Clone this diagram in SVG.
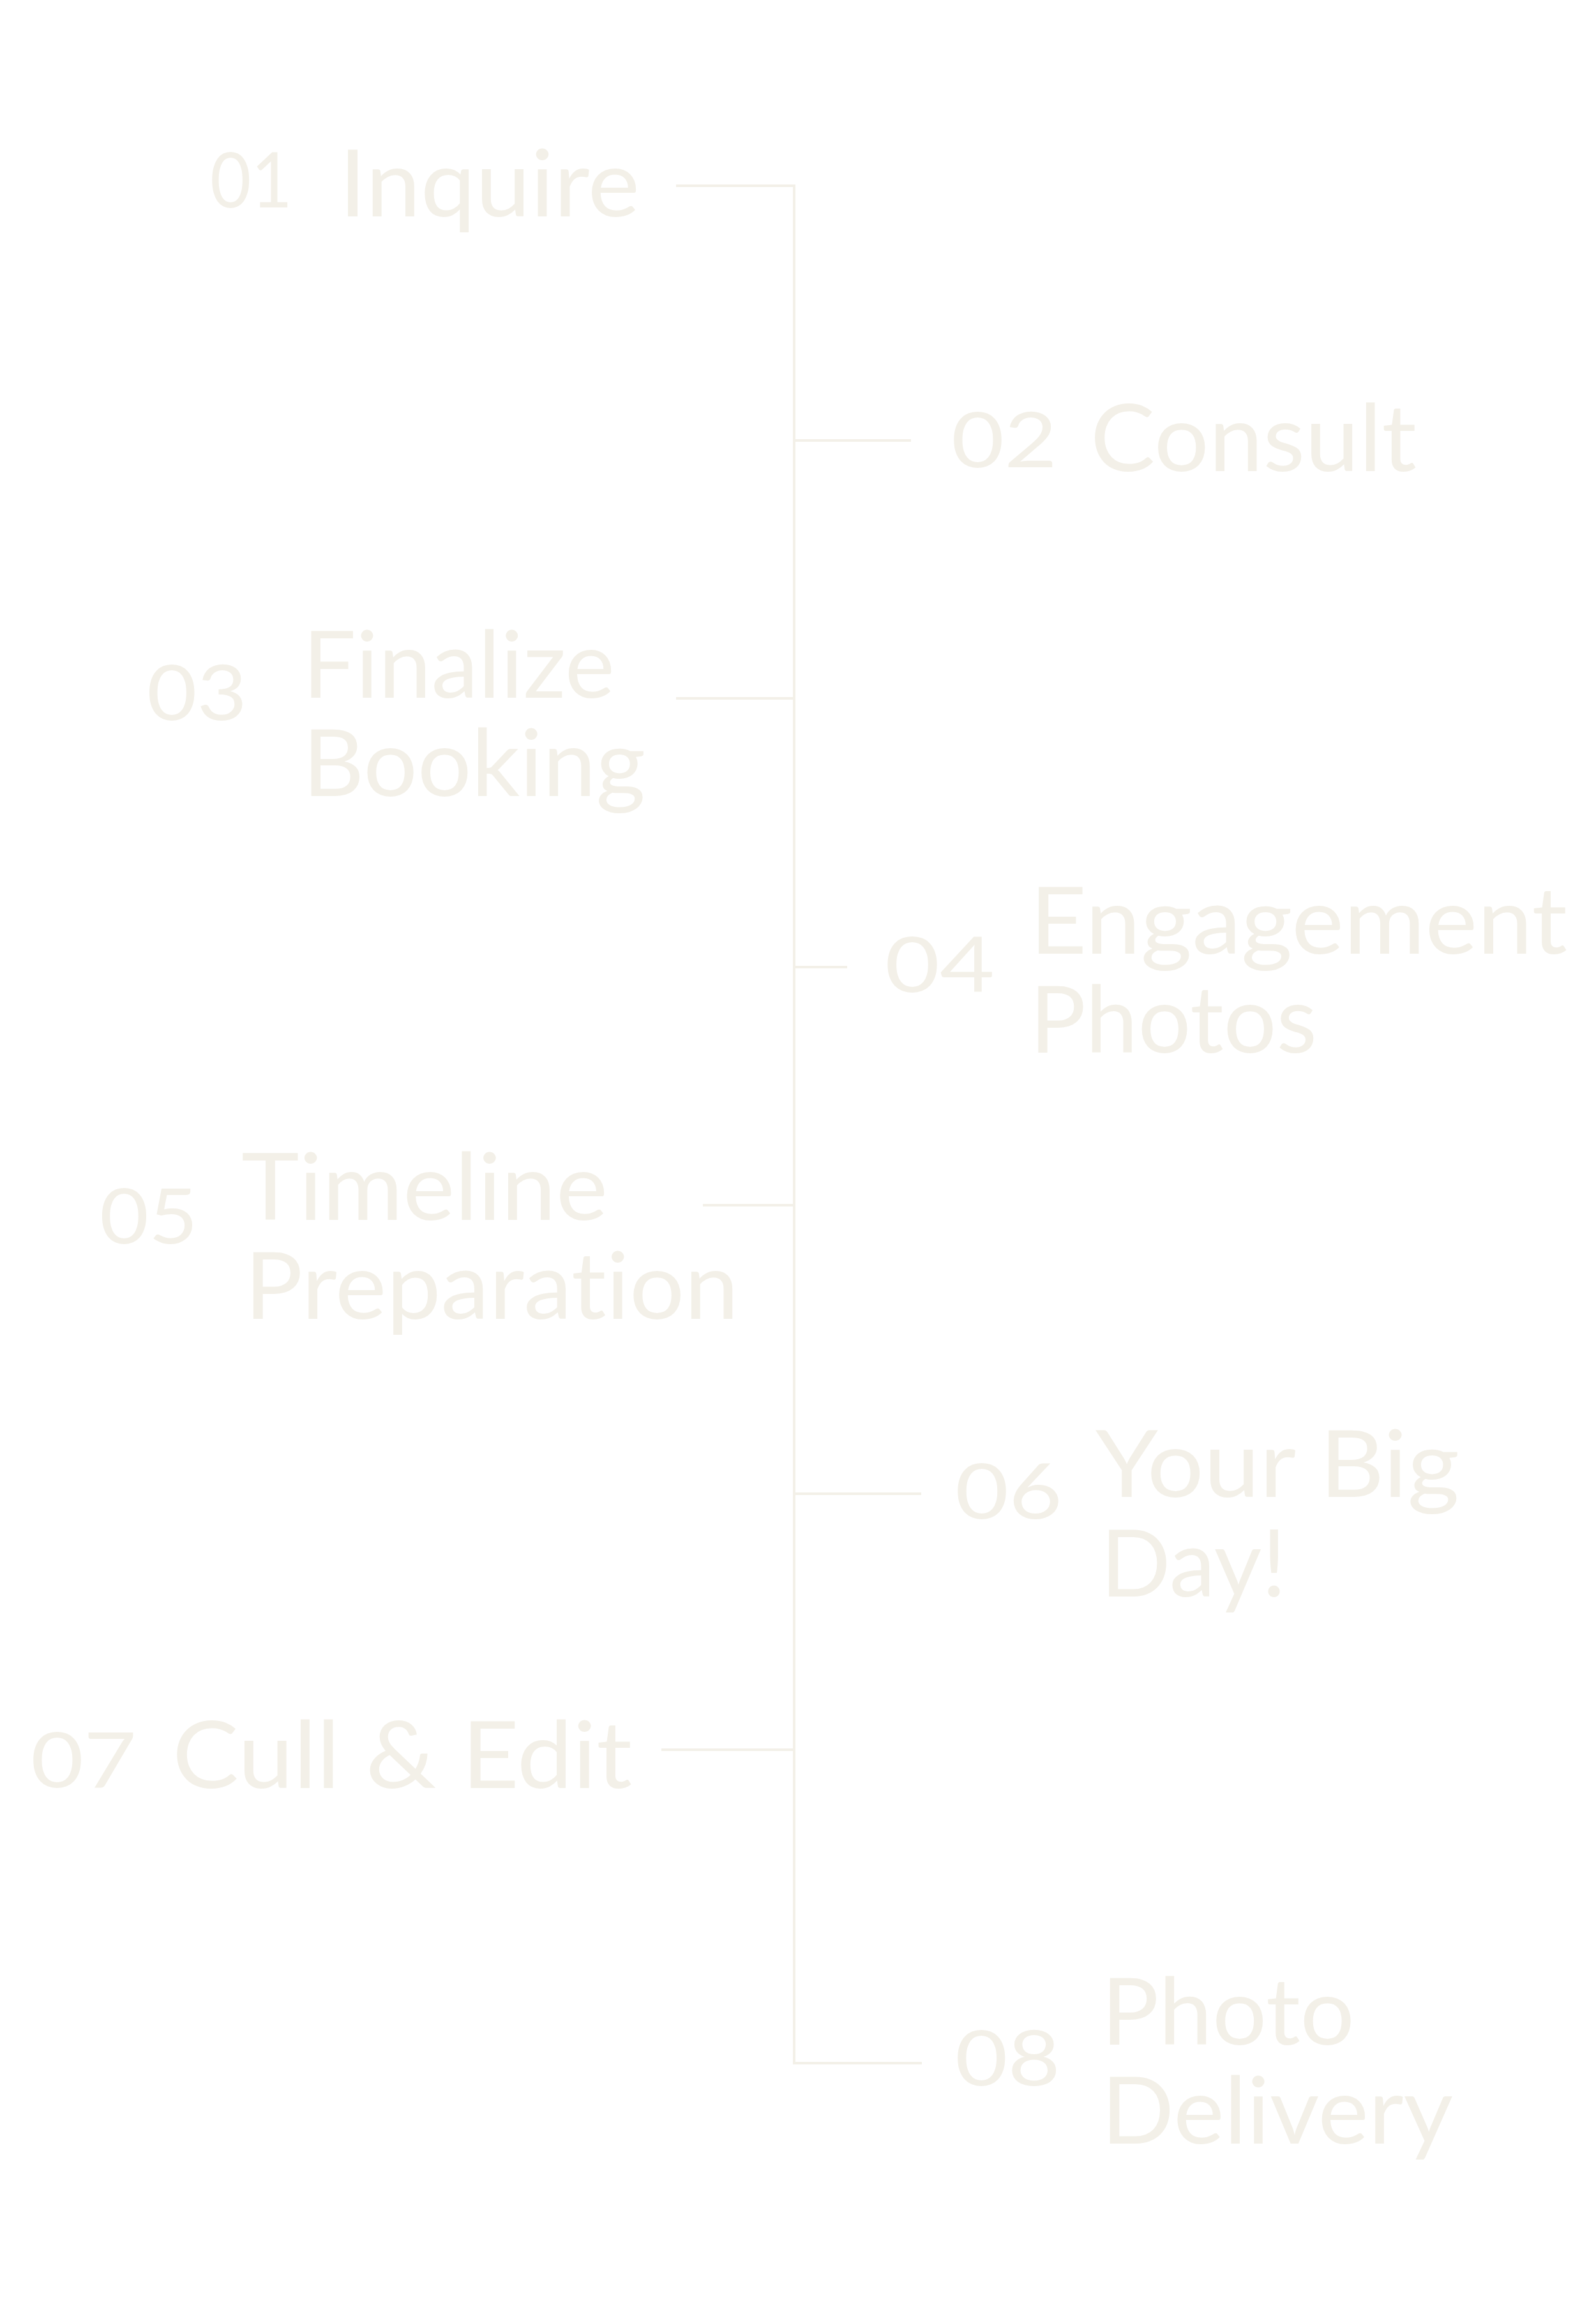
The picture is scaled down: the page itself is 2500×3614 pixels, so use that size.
<svg xmlns="http://www.w3.org/2000/svg" width="2500" height="3614" viewBox="0 0 2500 3614">
<style>
.lbl{font-family:Lato,"Liberation Sans",sans-serif;font-size:145px;fill:#F3F0E8;font-variant-ligatures:none;font-feature-settings:"liga" 0;}
.num{font-family:Lato,"Liberation Sans",sans-serif;font-size:121px;fill:#F3F0E8;}
.conn{fill:none;stroke:#F3F0E8;stroke-width:4;}
</style>
<rect width="2500" height="3614" fill="#FFFFFF"/>
<g id="connectors" class="conn">
<path d="M1059 291 H1244 V3232 H1444"/>
<path d="M1244 690 H1427"/>
<path d="M1059 1094 H1244"/>
<path d="M1244 1515 H1327"/>
<path d="M1101 1888 H1244"/>
<path d="M1244 2340 H1443"/>
<path d="M1036 2741 H1244"/>
</g>
<g id="step01">
<text class="num" x="329" y="325" textLength="129" lengthAdjust="spacingAndGlyphs">01</text>
<text class="lbl" x="531" y="339" textLength="471" lengthAdjust="spacingAndGlyphs">Inquire</text>
</g>
<g id="step02">
<text class="num" x="1490" y="732" textLength="166" lengthAdjust="spacingAndGlyphs">02</text>
<text class="lbl" x="1708" y="738" textLength="511" lengthAdjust="spacingAndGlyphs">Consult</text>
</g>
<g id="step03">
<text class="num" x="230" y="1128" textLength="157" lengthAdjust="spacingAndGlyphs">03</text>
<text class="lbl"><tspan x="474" y="1093" textLength="489" lengthAdjust="spacingAndGlyphs">Finalize</tspan><tspan x="474" y="1247" textLength="537" lengthAdjust="spacingAndGlyphs">Booking</tspan></text>
</g>
<g id="step04">
<text class="num" x="1386" y="1554" textLength="172" lengthAdjust="spacingAndGlyphs">04</text>
<text class="lbl"><tspan x="1613" y="1494" textLength="842" lengthAdjust="spacingAndGlyphs">Engagement</tspan><tspan x="1613" y="1649" textLength="450" lengthAdjust="spacingAndGlyphs">Photos</tspan></text>
</g>
<g id="step05">
<text class="num" x="156" y="1948" textLength="154" lengthAdjust="spacingAndGlyphs">05</text>
<text class="lbl"><tspan x="378" y="1911" textLength="574" lengthAdjust="spacingAndGlyphs">Timeline</tspan><tspan x="383" y="2066" textLength="774" lengthAdjust="spacingAndGlyphs">Preparation</tspan></text>
</g>
<g id="step06">
<text class="num" x="1496" y="2379" textLength="168" lengthAdjust="spacingAndGlyphs">06</text>
<text class="lbl"><tspan x="1716" y="2345" textLength="570" lengthAdjust="spacingAndGlyphs">Your Big</tspan><tspan x="1724" y="2501" textLength="291" lengthAdjust="spacingAndGlyphs">Day!</tspan></text>
</g>
<g id="step07">
<text class="num" x="48" y="2800" textLength="166" lengthAdjust="spacingAndGlyphs">07</text>
<text class="lbl" x="270" y="2801" textLength="720" lengthAdjust="spacingAndGlyphs">Cull &amp; Edit</text>
</g>
<g id="step08">
<text class="num" x="1496" y="3267" textLength="165" lengthAdjust="spacingAndGlyphs">08</text>
<text class="lbl"><tspan x="1725" y="3203" textLength="397" lengthAdjust="spacingAndGlyphs">Photo</tspan><tspan x="1725" y="3358" textLength="551" lengthAdjust="spacingAndGlyphs">Delivery</tspan></text>
</g>
</svg>
